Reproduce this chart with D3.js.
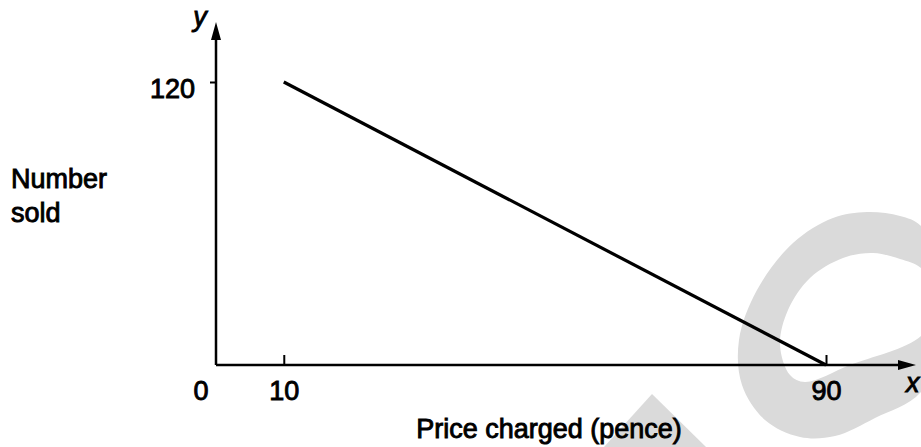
<!DOCTYPE html>
<html>
<head>
<meta charset="utf-8">
<script src="https://cdn.jsdelivr.net/npm/d3@7"></script>
<style>
  html, body { margin: 0; padding: 0; background: #fff; }
  svg text { font-family: "Liberation Sans", Arial, sans-serif; fill: #000; stroke: #000; stroke-width: 0.9px; }
</style>
</head>
<body>
<div id="svg-container"></div>
<script>
//////////////////////////////  Data  //////////////////////////////
const price = [10, 90]; // pence
const numberSold = [120, 0];
const xTickValues = [10, 90];
const yTickValues = [120];
const xLabel = "Price charged (pence)";
const yLabel = ["Number", "sold"];

//////////////////////////////  Init  //////////////////////////////
const width = 921;
const height = 447;

const svg = d3
  .select("#svg-container")
  .append("svg")
  .attr("width", width)
  .attr("height", height);

svg.append("rect").attr("width", width).attr("height", height).attr("fill", "#fff");

// faint watermark behind the chart (scan artefact, traced by eye)
const blob = d3.line().curve(d3.curveCatmullRomClosed);
const outerRing = [
  [960, 300], [921, 226], [900, 216], [867, 212], [833, 218], [793, 243], [757, 290],
  [739, 340], [742, 385], [765, 420], [800, 437], [835, 436], [875, 418], [921, 392],
];
const innerRing = [
  [940, 300], [921, 268], [900, 259], [873, 253], [843, 258], [810, 278], [788, 310],
  [780, 345], [790, 375], [805, 382], [850, 365], [921, 336],
];
const wm = svg.append("g").attr("fill", "#dadada");
wm.append("path")
  .attr("fill-rule", "evenodd")
  .attr("d", blob(outerRing) + blob(innerRing));
wm.append("polygon").attr("points", "652,394 706,447 604,447");

// scale
const xScale = d3.scaleLinear().domain([0, 90]).range([216, 826]);
const yScale = d3.scaleLinear().domain([0, 120]).range([365, 82]);

// axis
const xAxis = d3
  .axisBottom(xScale)
  .tickValues(xTickValues)
  .tickSizeInner(-10)
  .tickSizeOuter(0)
  .tickPadding(16);

const yAxis = d3
  .axisLeft(yScale)
  .tickValues(yTickValues)
  .tickSizeInner(6)
  .tickSizeOuter(0)
  .tickPadding(15);

svg
  .append("g")
  .attr("transform", `translate(0, ${yScale(0)})`)
  .call(xAxis)
  .call((g) => g.select(".domain").remove())
  .call((g) => g.selectAll("line").attr("stroke-width", 2))
  .call((g) => g.selectAll("text").attr("font-size", 27).style("font-family", null));

svg
  .append("g")
  .attr("transform", `translate(${xScale(0)}, 0)`)
  .call(yAxis)
  .call((g) => g.select(".domain").remove())
  .call((g) => g.selectAll("line").attr("stroke-width", 2))
  .call((g) => g.selectAll("text").attr("font-size", 27).attr("dy", "0.56em").style("font-family", null));

// axis lines with arrow heads
const ox = xScale(0);
const oy = yScale(0);
svg
  .append("path")
  .attr("d", `M${ox},${oy}H905 M${ox},${oy}V34`)
  .attr("stroke", "#000")
  .attr("stroke-width", 2.5)
  .attr("fill", "none");
svg
  .append("path")
  .attr("d", `M916,${oy} L898,${oy - 5} L898,${oy + 5}Z M${ox},22 L${ox - 5},40 L${ox + 5},40Z`)
  .attr("fill", "#000");

// origin label
svg
  .append("text")
  .attr("x", ox - 15)
  .attr("y", 400)
  .attr("text-anchor", "middle")
  .attr("font-size", 27)
  .text("0");

// axis letters
svg
  .append("text")
  .attr("x", 200)
  .attr("y", 26)
  .attr("text-anchor", "middle")
  .attr("font-size", 27)
  .attr("font-style", "italic")
  .text("y");

svg
  .append("text")
  .attr("x", 906)
  .attr("y", 392)
  .attr("font-size", 27)
  .attr("font-style", "italic")
  .text("x");

// axis titles
svg
  .append("text")
  .attr("x", (415 + 683) / 2)
  .attr("y", 438)
  .attr("text-anchor", "middle")
  .attr("font-size", 27)
  .text(xLabel);

svg
  .selectAll(".ylab")
  .data(yLabel)
  .join("text")
  .attr("class", "ylab")
  .attr("x", 11)
  .attr("y", (d, i) => 188 + i * 34)
  .attr("font-size", 27)
  .text((d) => d);

//////////////////////////////  Line  //////////////////////////////
const line = d3
  .line()
  .x((d) => xScale(d[0]))
  .y((d) => yScale(d[1]));

svg
  .append("path")
  .datum(d3.zip(price, numberSold))
  .attr("fill", "none")
  .attr("stroke", "#000")
  .attr("stroke-width", 3.2)
  .attr("d", line);
</script>
</body>
</html>
